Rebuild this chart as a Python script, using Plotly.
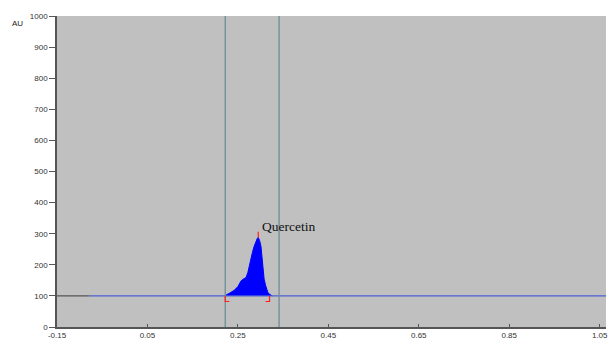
import plotly.graph_objects as go

# --- data ---
peak_x = [0.222, 0.224, 0.233, 0.242, 0.250, 0.257, 0.262, 0.268, 0.272, 0.275,
          0.279, 0.282, 0.286, 0.290, 0.293, 0.295, 0.298, 0.301, 0.304, 0.308,
          0.311, 0.313, 0.316, 0.319, 0.322, 0.326]
peak_y = [100, 103, 110, 118, 130, 148, 154, 159, 175, 196,
          218, 239, 260, 277, 285, 288, 278, 260, 212, 154,
          135, 122, 112, 106, 103, 100]
baseline_level = 100
baseline_dark_x = [-0.15, -0.078]
baseline_blue_x = [-0.078, 1.064]
window_x = [0.222, 0.341]          # vertical marker lines
integration_x = [0.222, 0.320]     # red bracket limits
apex = (0.295, 288)
peak_label = "Quercetin"
x_ticks = [-0.15, 0.05, 0.25, 0.45, 0.65, 0.85, 1.05]
y_ticks = [0, 100, 200, 300, 400, 500, 600, 700, 800, 900, 1000]
x_range = [-0.15, 1.064]
y_range = [0, 1000]

fig = go.Figure()

# peak fill
fig.add_trace(go.Scatter(x=peak_x, y=peak_y, mode="lines", fill="toself",
                         fillcolor="#0000ff", line=dict(color="#0000ff", width=1),
                         hoverinfo="skip"))
# baselines
fig.add_trace(go.Scatter(x=baseline_dark_x, y=[baseline_level]*2, mode="lines",
                         line=dict(color="#555555", width=1.2)))
fig.add_trace(go.Scatter(x=baseline_blue_x, y=[baseline_level]*2, mode="lines",
                         line=dict(color="#4d5fd6", width=1.2)))

# vertical window lines
for xv in window_x:
    fig.add_trace(go.Scatter(x=[xv, xv], y=y_range, mode="lines",
                             line=dict(color="#6b8d98", width=1.3)))

# red brackets at integration limits
dy = 18
dx = 0.009
fig.add_trace(go.Scatter(
    x=[integration_x[0] + dx, integration_x[0], integration_x[0], None,
       integration_x[1] - dx, integration_x[1], integration_x[1]],
    y=[baseline_level - dy, baseline_level - dy, baseline_level, None,
       baseline_level - dy, baseline_level - dy, baseline_level],
    mode="lines", line=dict(color="#ff2020", width=1.2)))
# red apex tick
fig.add_trace(go.Scatter(x=[apex[0], apex[0]], y=[apex[1], apex[1] + 18],
                         mode="lines", line=dict(color="#ff2020", width=1.2)))

fig.add_annotation(x=apex[0], y=apex[1], text=peak_label, showarrow=False,
                   xanchor="left", yanchor="bottom", xshift=2, yshift=1,
                   font=dict(family="Liberation Serif, Times New Roman, serif",
                             size=13.5, color="#111111"))

fig.add_annotation(xref="paper", yref="paper", x=-0.072, y=0.975, text="AU",
                   showarrow=False, xanchor="center", yanchor="middle",
                   font=dict(family="Liberation Sans, Arial", size=8, color="#222"))

fig.update_layout(
    width=608, height=340,
    margin=dict(l=57, r=0, t=16, b=12),
    paper_bgcolor="white", plot_bgcolor="#c0c0c0",
    showlegend=False,
    xaxis=dict(range=x_range, tickvals=x_ticks,
               ticktext=[f"{v:.2f}" for v in x_ticks],
               ticklabeloverflow="allow",
               showgrid=False, zeroline=False, showline=True,
               linecolor="#555555", linewidth=1.5, ticks="inside",
               ticklen=3, tickcolor="#555555",
               tickfont=dict(family="Liberation Sans, Arial", size=8, color="#333")),
    yaxis=dict(range=y_range, tickvals=y_ticks,
               showgrid=False, zeroline=False, showline=True,
               linecolor="#555555", linewidth=1.5, ticks="outside",
               ticklen=6, tickcolor="#555555",
               tickfont=dict(family="Liberation Sans, Arial", size=8, color="#333")),
)

fig.write_html(
    "out.html",
    config={"displayModeBar": False},
    post_script="document.documentElement.style.margin='0';"
                "document.body.style.margin='0';"
                "document.documentElement.style.overflow='hidden';"
                "document.body.style.overflow='hidden';",
)
